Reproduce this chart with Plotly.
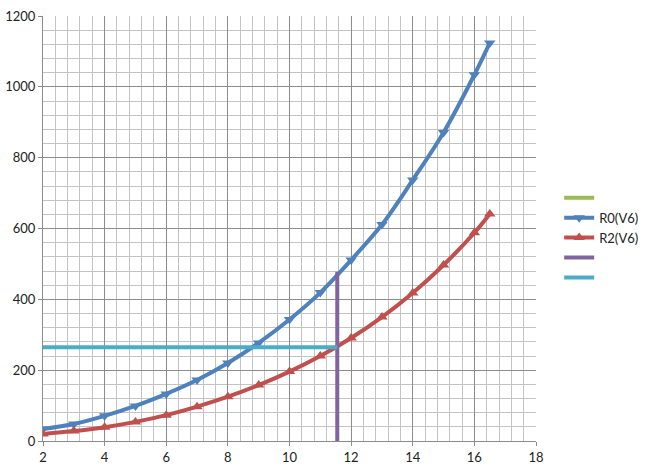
import plotly.graph_objects as go

x_vals = [2, 3, 4, 5, 6, 7, 8, 9, 10, 11, 12, 13, 14, 15, 16, 16.5]
r0_vals = [34, 48, 71, 99, 133, 172, 220, 277, 343, 419, 511, 611, 737, 871, 1034, 1124]
r2_vals = [20, 28, 39, 54, 73, 97, 125, 158, 196, 240, 291, 350, 418, 497, 588, 641]

h_line_x = [2, 11.55]
h_line_y = [265, 265]
v_line_x = [11.55, 11.55]
v_line_y = [0, 478]

fig = go.Figure()
fig.add_trace(go.Scatter(x=[None], y=[None], mode="lines", name=" ",
                         line=dict(color="#9BBB59", width=4)))
fig.add_trace(go.Scatter(x=x_vals, y=r0_vals, mode="lines+markers", name="R0(V6)",
                         line=dict(color="#4F81BD", width=4, shape="spline"),
                         marker=dict(symbol="triangle-down", size=10, color="#4F81BD")))
fig.add_trace(go.Scatter(x=x_vals, y=r2_vals, mode="lines+markers", name="R2(V6)",
                         line=dict(color="#C0504D", width=4, shape="spline"),
                         marker=dict(symbol="triangle-up", size=10, color="#C0504D")))
fig.add_trace(go.Scatter(x=v_line_x, y=v_line_y, mode="lines", name="  ",
                         line=dict(color="#8064A2", width=4)))
fig.add_trace(go.Scatter(x=h_line_x, y=h_line_y, mode="lines", name="   ",
                         line=dict(color="#4BACC6", width=4)))

fig.update_layout(
    width=649, height=474,
    margin=dict(l=43, r=113, t=16, b=33, autoexpand=False),
    paper_bgcolor="white", plot_bgcolor="white",
    font=dict(family="Lato", size=13, color="#222"),
    showlegend=True,
    legend=dict(x=1.047, y=0.478, xanchor="left", yanchor="middle",
                font=dict(size=13), tracegroupgap=0, itemwidth=30,
                bgcolor="rgba(0,0,0,0)"),
)
fig.update_xaxes(range=[2, 18], dtick=2, tick0=2, showgrid=True, gridcolor="#8c8c8c", gridwidth=1,
                 minor=dict(dtick=0.4, tick0=2, showgrid=True, gridcolor="#c4c4c4", gridwidth=1),
                 showline=True, linecolor="#8c8c8c", linewidth=1, ticks="outside", ticklen=4,
                 tickcolor="#8c8c8c", zeroline=False, automargin=False, ticklabeloverflow="allow")
fig.update_yaxes(range=[0, 1200], dtick=200, showgrid=True, gridcolor="#8c8c8c", gridwidth=1,
                 minor=dict(dtick=40, showgrid=True, gridcolor="#c4c4c4", gridwidth=1),
                 showline=True, linecolor="#8c8c8c", linewidth=1, ticks="outside", ticklen=4,
                 tickcolor="#8c8c8c", zeroline=False, automargin=False, ticklabeloverflow="allow")

fig.write_html("out.html", config={"displayModeBar": False},
               post_script="document.body.style.margin='0';")
